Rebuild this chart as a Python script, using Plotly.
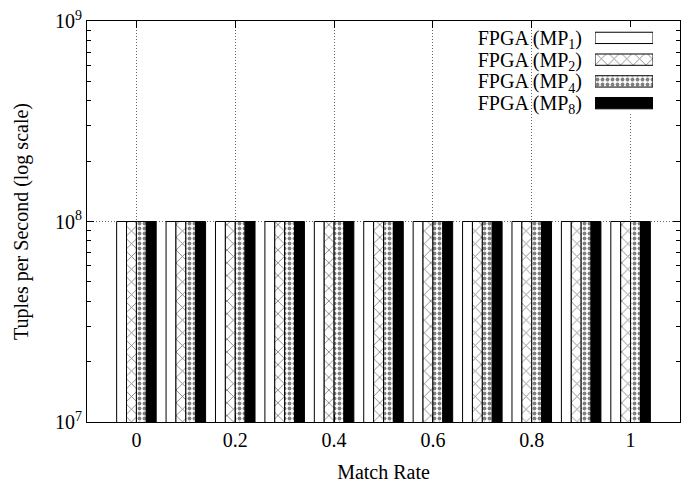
import plotly.graph_objects as go

# ---- data ----
match_rate = [0.0, 0.1, 0.2, 0.3, 0.4, 0.5, 0.6, 0.7, 0.8, 0.9, 1.0]
fpga_mp1 = [1e8, 1e8, 1e8, 1e8, 1e8, 1e8, 1e8, 1e8, 1e8, 1e8, 1e8]
fpga_mp2 = [1e8, 1e8, 1e8, 1e8, 1e8, 1e8, 1e8, 1e8, 1e8, 1e8, 1e8]
fpga_mp4 = [1e8, 1e8, 1e8, 1e8, 1e8, 1e8, 1e8, 1e8, 1e8, 1e8, 1e8]
fpga_mp8 = [1e8, 1e8, 1e8, 1e8, 1e8, 1e8, 1e8, 1e8, 1e8, 1e8, 1e8]
series_names = ["FPGA (MP<sub>1</sub>)", "FPGA (MP<sub>2</sub>)",
                "FPGA (MP<sub>4</sub>)", "FPGA (MP<sub>8</sub>)"]
series_values = [fpga_mp1, fpga_mp2, fpga_mp4, fpga_mp8]
x_tickvals = [0, 0.2, 0.4, 0.6, 0.8, 1]
x_ticktext = ["0", "0.2", "0.4", "0.6", "0.8", "1"]
y_tickvals = [1e7, 1e8, 1e9]
y_ticktext = ["10<sup>7</sup>", "10<sup>8</sup>", "10<sup>9</sup>"]
y_minor = [m * 10 ** e for e in (7, 8) for m in range(2, 10)]

FONT = "Liberation Serif"

styles = [
    dict(color="white", pattern=dict(shape="")),
    dict(color="white", pattern=dict(shape="x", fgcolor="black", bgcolor="white", size=9, solidity=0.18)),
    dict(color="white", pattern=dict(shape=".", fgcolor="black", bgcolor="white", size=5, solidity=0.45)),
    dict(color="black", pattern=dict(shape="")),
]

fig = go.Figure()
for name, vals, st in zip(series_names, series_values, styles):
    fig.add_trace(go.Bar(
        x=match_rate, y=vals, name=name, showlegend=False,
        marker=dict(color=st["color"], pattern=st["pattern"],
                    line=dict(color="black", width=1)),
    ))

# legend samples drawn on an auxiliary axis pair
for name, st in zip(series_names, styles):
    fig.add_trace(go.Bar(
        x=[1], y=[name], orientation="h", xaxis="x2", yaxis="y2", width=0.52,
        showlegend=False, hoverinfo="skip",
        marker=dict(color=st["color"], pattern=st["pattern"],
                    line=dict(color="black", width=1)),
    ))

axis_common = dict(showline=True, linecolor="black", linewidth=1, mirror="ticks",
                   ticks="inside", tickcolor="black", ticklabeloverflow="allow",
                   tickfont=dict(family=FONT, size=20, color="black"))

fig.update_layout(
    width=691, height=481,
    margin=dict(l=79, r=19, t=13, b=67, autoexpand=False),
    paper_bgcolor="white", plot_bgcolor="white",
    font=dict(family=FONT, size=20, color="black"),
    barmode="group", bargap=0.2, bargroupgap=0,
    xaxis=dict(range=[-0.1, 1.1], tickmode="array", tickvals=x_tickvals, ticktext=x_ticktext,
               ticklen=7, showgrid=True, gridcolor="#666", griddash="1px,2px", gridwidth=1,
               zeroline=False,
               title=dict(text="Match Rate", font=dict(family=FONT, size=20), standoff=14),
               **axis_common),
    yaxis=dict(type="log", range=[7, 9], tickmode="array", tickvals=y_tickvals, ticktext=y_ticktext,
               ticklen=7, showgrid=True, gridcolor="#666", griddash="1px,2px", gridwidth=1,
               minor=dict(tickmode="array", tickvals=y_minor, ticks="inside", ticklen=4,
                          tickcolor="black", showgrid=False),
               title=dict(text="Tuples per Second (log scale)", font=dict(family=FONT, size=20), standoff=21),
               **axis_common),
    xaxis2=dict(domain=[0.8567, 0.9545], range=[0, 1], anchor="y2", visible=False, fixedrange=True),
    yaxis2=dict(domain=[0.768, 0.985], anchor="x2", type="category", autorange="reversed",
                tickmode="array", tickvals=series_names, ticktext=series_names,
                showline=False, showgrid=False, zeroline=False, ticks="", ticklabelstandoff=12,
                tickfont=dict(family=FONT, size=20, color="black"), fixedrange=True),
    shapes=[dict(type="rect", xref="x", yref="y",
                 x0=0.644, x1=1.07, y0=8.51, y1=8.98,
                 fillcolor="white", line=dict(width=0), layer="between")],
)
fig.write_html("out.html")
